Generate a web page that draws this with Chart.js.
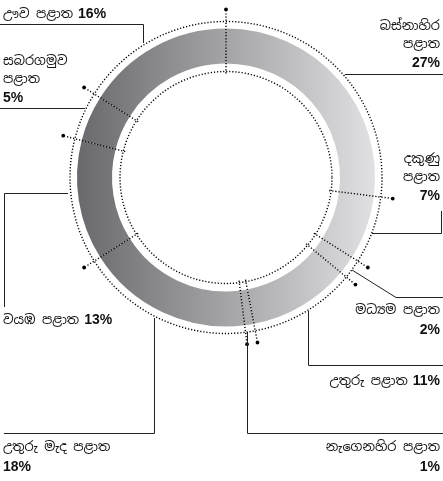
<!DOCTYPE html>
<html>
<head>
<meta charset="utf-8">
<script src="https://cdn.jsdelivr.net/npm/chart.js@4.4.1/dist/chart.umd.min.js"></script>
<style>
  html, body { margin: 0; padding: 0; background: #fff; }
  #wrap { position: relative; width: 443px; height: 481px; }
</style>
</head>
<body>
<div id="wrap"><canvas id="myChart" width="443" height="481"></canvas></div>
<script>
// provinces, clockwise from 12 o'clock
const provinces = ["බස්නාහිර පළාත", "දකුණු පළාත", "මධ්‍යම පළාත", "උතුරු පළාත", "නැගෙනහිර පළාත",
  "උතුරු මැද පළාත", "වයඹ පළාත", "සබරගමුව පළාත", "ඌව පළාත"];
const shares = [27, 7, 2, 11, 1, 18, 13, 5, 16];

// where each label sits and how its leader line runs (same order as provinces)
const labelLayout = [
  { mode: "stack", align: "right", x: 440, y: 30, lead: [[345, 74.5], [443, 74.5]] },
  { mode: "stack", align: "right", x: 440, y: 163, lead: [[372, 233.5], [441.5, 233.5], [441.5, 211]] },
  { mode: "below", align: "right", x: 440, y: 314, lead: [[352, 270], [396, 297.5], [443, 297.5]] },
  { mode: "inline", align: "right", x: 440, y: 385, lead: [[308.5, 311], [308.5, 365.5], [443, 365.5]] },
  { mode: "below", align: "right", x: 440, y: 451, lead: [[247.5, 332], [247.5, 433.5], [443, 433.5]] },
  { mode: "below", align: "left", x: 3, y: 451, lead: [[154.5, 318], [154.5, 433.5], [4, 433.5]] },
  { mode: "inline", align: "left", x: 3, y: 324, lead: [[68, 193.5], [4.5, 193.5], [4.5, 307]] },
  { mode: "stack", align: "left", x: 3, y: 65, lead: [[0, 108.5], [85, 108.5]] },
  { mode: "inline", align: "left", x: 3, y: 18, lead: [[0, 24.5], [143.5, 24.5], [143.5, 43]] },
];

const nameFont = "13px 'Noto Sans Sinhala', 'Noto Sans', sans-serif";
const pctFont = "bold 14px 'Liberation Sans', Arial, sans-serif";

function ringGradient(context) {
  const area = context.chart.chartArea;
  if (!area) return "#a4a4a7";
  const g = context.chart.ctx.createLinearGradient(area.left, 0, area.right, 0);
  g.addColorStop(0, "#69696d");
  g.addColorStop(0.5, "#a4a4a7");
  g.addColorStop(1, "#e1e1e3");
  return g;
}

const decorations = {
  id: "decorations",
  afterDatasetsDraw(chart) {
    const ctx = chart.ctx;
    const arcs = chart.getDatasetMeta(0).data;
    if (!arcs.length) return;
    const cx = arcs[0].x, cy = arcs[0].y;
    const rOut = arcs[0].outerRadius, rIn = arcs[0].innerRadius;
    const dotOut = rOut + 7, dotIn = rIn - 8;

    ctx.save();
    ctx.strokeStyle = "#000";
    ctx.lineWidth = 1.4;
    ctx.setLineDash([1.2, 1.9]);
    [dotOut, dotIn].forEach(r => {
      ctx.beginPath();
      ctx.arc(cx, cy, r, 0, Math.PI * 2);
      ctx.stroke();
    });

    // dotted dividers at every slice boundary, ending in a dot
    arcs.forEach(a => {
      const ang = a.startAngle;
      const c = Math.cos(ang), s = Math.sin(ang);
      ctx.setLineDash([1.2, 1.9]);
      ctx.beginPath();
      ctx.moveTo(cx + c * (dotIn - 2), cy + s * (dotIn - 2));
      ctx.lineTo(cx + c * (rOut + 16), cy + s * (rOut + 16));
      ctx.stroke();
      ctx.setLineDash([]);
      ctx.fillStyle = "#000";
      ctx.beginPath();
      ctx.arc(cx + c * (rOut + 19), cy + s * (rOut + 19), 1.9, 0, Math.PI * 2);
      ctx.fill();
    });

    // leader lines
    ctx.setLineDash([]);
    ctx.lineWidth = 1;
    ctx.strokeStyle = "#222";
    labelLayout.forEach(l => {
      ctx.beginPath();
      l.lead.forEach((p, i) => i ? ctx.lineTo(p[0], p[1]) : ctx.moveTo(p[0], p[1]));
      ctx.stroke();
    });

    // labels
    ctx.fillStyle = "#111";
    ctx.textBaseline = "alphabetic";
    provinces.forEach((name, i) => {
      const l = labelLayout[i];
      const pct = shares[i] + "%";
      let lines;
      if (l.mode === "inline") lines = [[name, pct]];
      else if (l.mode === "below") lines = [[name, null], [null, pct]];
      else lines = name.split(" ").map(w => [w, null]).concat([[null, pct]]);
      lines.forEach((ln, j) => {
        const y = l.y + j * 17.5 + (ln[0] === null && l.mode !== "inline" ? 2 : 0);
        ctx.font = nameFont;
        const wName = ln[0] ? ctx.measureText(ln[0]).width : 0;
        ctx.font = pctFont;
        const wPct = ln[1] ? ctx.measureText(ln[1]).width : 0;
        const gap = ln[0] && ln[1] ? 5 : 0;
        let x = l.align === "right" ? l.x - (wName + gap + wPct) : l.x;
        ctx.textAlign = "left";
        if (ln[0]) { ctx.font = nameFont; ctx.fillText(ln[0], x, y); }
        if (ln[1]) { ctx.font = pctFont; ctx.fillText(ln[1], x + wName + gap, y); }
      });
    });
    ctx.restore();
  }
};

new Chart(document.getElementById("myChart"), {
  type: "doughnut",
  data: {
    labels: provinces,
    datasets: [{
      data: shares,
      backgroundColor: ringGradient,
      borderWidth: 0,
    }],
  },
  options: {
    responsive: false,
    animation: false,
    cutout: "76.5%",
    layout: { padding: { left: 77, right: 68, top: 28, bottom: 154 } },
    plugins: {
      legend: { display: false },
      tooltip: { enabled: false },
    },
  },
  plugins: [decorations],
});
</script>
</body>
</html>
